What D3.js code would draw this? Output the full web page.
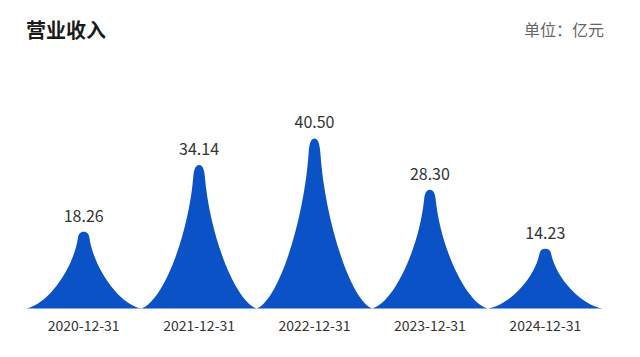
<!DOCTYPE html>
<html>
<head>
<meta charset="utf-8">
<script src="https://cdn.jsdelivr.net/npm/d3@7/dist/d3.min.js"></script>
<style>
  html, body { margin: 0; padding: 0; background: #fff; }
  svg { display: block; }
</style>
</head>
<body>
<div id="chart"></div>
<script>
const title = "营业收入";
const unitLabel = "单位：亿元";
const categories = ["2020-12-31", "2021-12-31", "2022-12-31", "2023-12-31", "2024-12-31"];
const revenue = [18.26, 34.14, 40.50, 28.30, 14.23];
const valueLabels = ["18.26", "34.14", "40.50", "28.30", "14.23"];

const W = 640, H = 357;
const margin = { left: 26, right: 37, top: 98.5, bottom: 48.5 };
const fontCJK = "'Noto Sans CJK SC', 'Noto Sans', sans-serif";
const blue = "#0b52c7";

// peak symbol in a unit box: x in [-1,1], y in [0,1] (0 = tip, 1 = base)
const peakSymbol = "M-1,1 C-0.62,0.95 -0.18,0.48 -0.1,0.08 C-0.09,0.03 -0.06,0 0,0 " +
                   "C0.06,0 0.09,0.03 0.1,0.08 C0.18,0.48 0.62,0.95 1,1 Z";

const svg = d3.select("#chart").append("svg")
  .attr("width", W).attr("height", H);

const x = d3.scaleBand()
  .domain(categories)
  .range([margin.left, W - margin.right])
  .padding(0);

const y = d3.scaleLinear()
  .domain([0, 50])
  .range([H - margin.bottom, margin.top]);

// title & unit
svg.append("text")
  .attr("x", 26).attr("y", 38)
  .attr("font-family", fontCJK)
  .attr("font-size", 20)
  .attr("font-weight", "bold")
  .attr("fill", "#1a1a1a")
  .text(title);

svg.append("text")
  .attr("x", 604).attr("y", 35.5)
  .attr("text-anchor", "end")
  .attr("font-family", fontCJK)
  .attr("font-size", 16)
  .attr("fill", "#666")
  .text(unitLabel);

const data = categories.map((c, i) => ({ cat: c, value: revenue[i], label: valueLabels[i] }));

// peaks
svg.append("g").selectAll("path")
  .data(data)
  .join("path")
  .attr("d", peakSymbol)
  .attr("transform", d => {
    const cx = x(d.cat) + x.bandwidth() / 2;
    const top = y(d.value);
    const h = y(0) - top;
    return `translate(${cx},${top}) scale(${x.bandwidth() / 2},${h})`;
  })
  .attr("fill", blue);

// value labels
svg.append("g").selectAll("text")
  .data(data)
  .join("text")
  .attr("x", d => x(d.cat) + x.bandwidth() / 2)
  .attr("y", d => y(d.value) - 10)
  .attr("text-anchor", "middle")
  .attr("font-family", fontCJK)
  .attr("font-size", 16)
  .attr("fill", "#333")
  .text(d => d.label);

// x axis
const axis = svg.append("g")
  .attr("transform", `translate(0,${y(0)})`)
  .call(d3.axisBottom(x).tickSize(0).tickPadding(22));
axis.select(".domain").remove();
axis.selectAll("text")
  .attr("font-family", fontCJK)
  .attr("font-size", 14)
  .attr("fill", "#333")
  .attr("dy", 0);
</script>
</body>
</html>
